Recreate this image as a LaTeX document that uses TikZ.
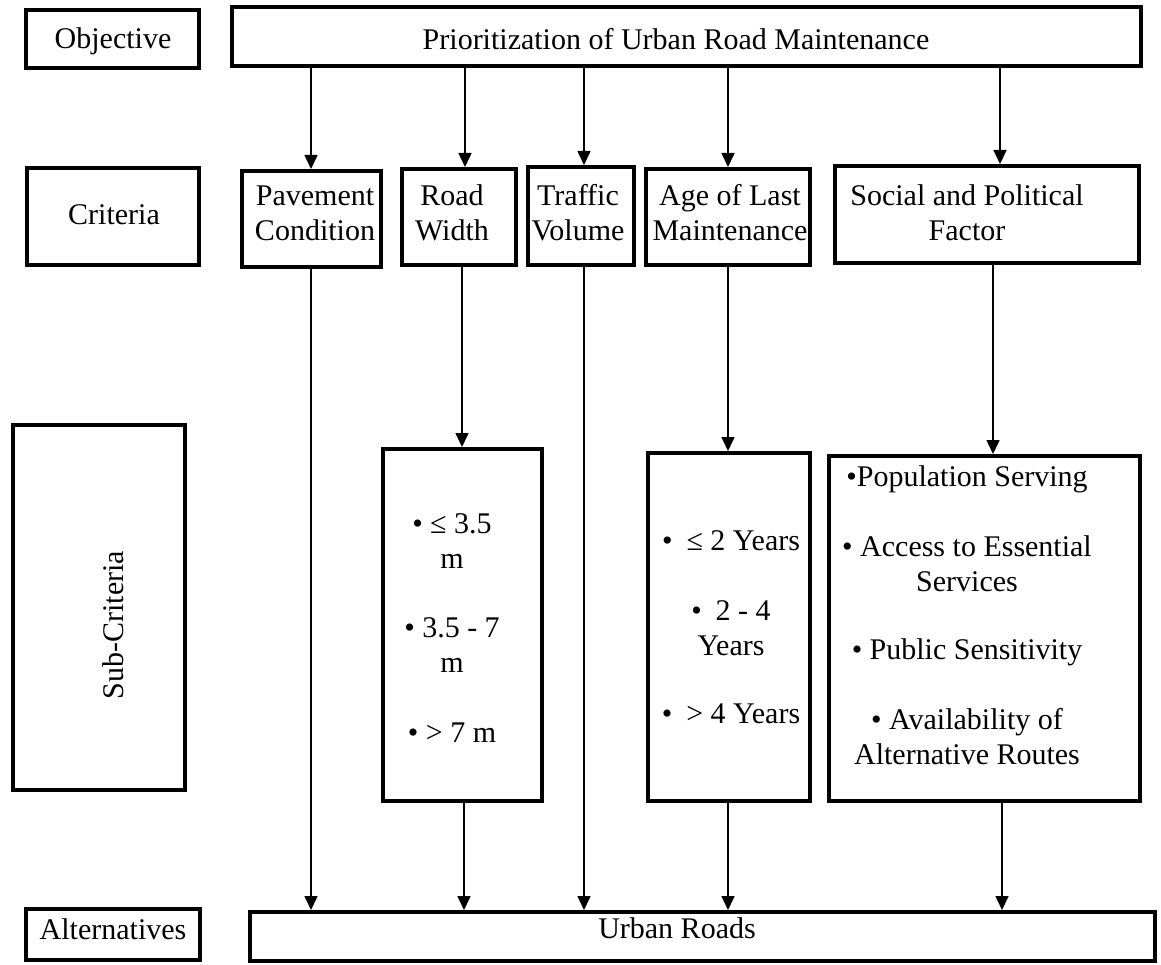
\documentclass[tikz,border=0pt]{standalone}
\usepackage{fontspec}
\setmainfont{Liberation Serif}
\usetikzlibrary{arrows.meta}
\newcommand\mkbox[5]{\node[bx, minimum width={#4-#2-4}, minimum height={#5-#3-4}] (#1) at ({(#2+#4)/2},{(#3+#5)/2}) {};}
\begin{document}
\begin{tikzpicture}[x=1pt,y=-1pt,
  bx/.style={draw, line width=4pt, inner sep=0pt},
  lbl/.style={font=\fontsize{30}{35}\selectfont, align=center, inner sep=0pt},
  arr/.style={line width=1.6pt, -{Triangle[length=14pt,width=13pt]}}]
\useasboundingbox (0,0) rectangle (1161,965);
% level labels
\mkbox{obj}{24}{8}{201}{70}
\node[lbl] (objt) at (113,41) {Objective};
\mkbox{crit}{25}{166}{201}{267}
\node[lbl] (critt) at (114,215) {Criteria};
\mkbox{sub}{11}{423}{187}{792}
\node[lbl, rotate=90] (subt) at (113,625) {Sub-Criteria};
\mkbox{alt}{24}{907}{202}{962}
\node[lbl] (altt) at (113,929) {Alternatives};
% goal
\mkbox{goal}{230}{5}{1143}{68}
\node[lbl] (goalt) at (676,39) {Prioritization of Urban Road Maintenance};
% criteria
\mkbox{pav}{240}{169}{383}{269}
\node[lbl] (pavt) at (315,213) {Pavement\\Condition};
\mkbox{rw}{400}{167}{518}{267}
\node[lbl] (rwt) at (452,213) {Road\\Width};
\mkbox{tv}{526}{165}{636}{267}
\node[lbl] (tvt) at (578,213) {Traffic\\Volume};
\mkbox{age}{644}{167}{812}{267}
\node[lbl] (aget) at (730,213) {Age of Last\\Maintenance};
\mkbox{soc}{833}{164}{1141}{265}
\node[lbl] (soct) at (967,213) {Social and Political\\Factor};
% sub-criteria
\mkbox{rws}{381}{447}{544}{803}
\node[lbl] (rwst) at (452,628) {• ≤ 3.5\\m\\[34pt]• 3.5 - 7\\m\\[35pt]• > 7 m};
\mkbox{ages}{646}{451}{812}{803}
\node[lbl] (agest) at (731,627) {•\hspace{14pt}≤ 2 Years\\[35pt]•\hspace{14pt}2 - 4\\Years\\[33pt]•\hspace{14pt}> 4 Years};
\mkbox{socs}{827}{454}{1142}{803}
\node[lbl] (socst) at (967,615) {•Population Serving\\[35pt]• Access to Essential\\Services\\[33pt]• Public Sensitivity\\[35pt]• Availability of\\Alternative Routes};
% alternatives
\mkbox{urb}{248}{910}{1157}{963}
\node[lbl] (urbt) at (677,928) {Urban Roads};
% connector columns
\coordinate (cP) at (311,0);
\coordinate (cR) at (465,0);
\coordinate (cR2) at (462,0);
\coordinate (cR3) at (464,0);
\coordinate (cT) at (584,0);
\coordinate (cA) at (728,0);
\coordinate (cS) at (1000,0);
\coordinate (cS2) at (993,0);
\coordinate (cS3) at (1002,0);
% connectors
\draw[arr] (goal.south -| cP) -- (pav.north -| cP);
\draw[arr] (goal.south -| cR) -- (rw.north -| cR);
\draw[arr] (goal.south -| cT) -- (tv.north -| cT);
\draw[arr] (goal.south -| cA) -- (age.north -| cA);
\draw[arr] (goal.south -| cS) -- (soc.north -| cS);
\draw[arr] (pav.south -| cP) -- (urb.north -| cP);
\draw[arr] (rw.south -| cR2) -- (rws.north -| cR2);
\draw[arr] (rws.south -| cR3) -- (urb.north -| cR3);
\draw[arr] (tv.south -| cT) -- (urb.north -| cT);
\draw[arr] (age.south -| cA) -- (ages.north -| cA);
\draw[arr] (ages.south -| cA) -- (urb.north -| cA);
\draw[arr] (soc.south -| cS2) -- (socs.north -| cS2);
\draw[arr] (socs.south -| cS3) -- (urb.north -| cS3);
\end{tikzpicture}
\end{document}
